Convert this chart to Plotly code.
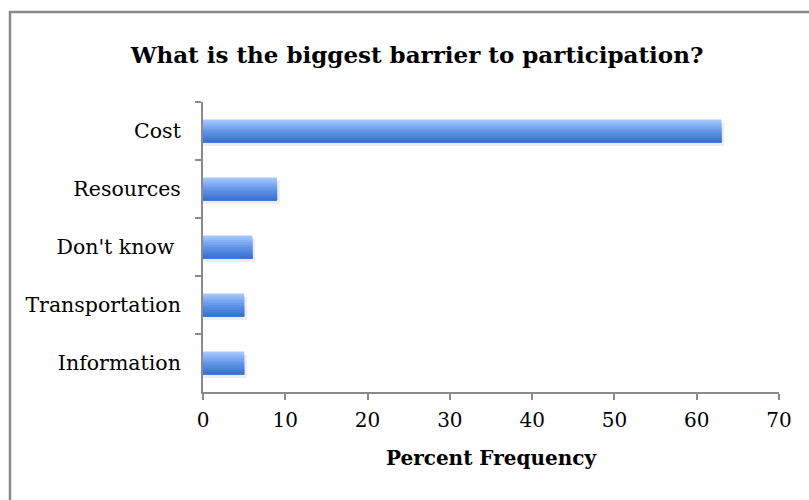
import plotly.graph_objects as go

categories = ["Cost", "Resources", "Don't know ", "Transportation", "Information"]
values = [63, 9, 6, 5, 5]
x_ticks = [0, 10, 20, 30, 40, 50, 60, 70]

W, H = 809, 500
L, R, T, B = 203, 30, 102, 108
pw, ph = W - L - R, H - T - B

SERIF = "DejaVu Serif, Liberation Serif, serif"
AXIS = "#8a8a8a"

fig = go.Figure()

# gradient simulated with stacked strips (top light -> bottom darker)
strip_colors = ["#a4c6fb", "#94bbf8", "#86b1f4", "#78a6f0", "#6b9cec", "#6093e7",
                "#568ae2", "#4c82dc", "#437ad5", "#3b72ce"]
n = len(strip_colors)
bw = 0.40
# subtle shadow
fig.add_trace(go.Bar(
    y=categories, x=[v + 0.35 for v in values], orientation="h",
    width=bw, offset=-bw / 2 + 0.06, marker=dict(color="rgba(0,0,0,0.07)", line=dict(width=0)),
    hoverinfo="skip", showlegend=False))
for i, c in enumerate(strip_colors):
    fig.add_trace(go.Bar(
        y=categories, x=values, orientation="h",
        width=bw - i * bw / n, offset=-bw / 2 + i * bw / n,
        marker=dict(color=c, line=dict(width=0)),
        showlegend=False, hoverinfo="x+y" if i == 0 else "skip"))

fig.update_layout(
    width=W, height=H,
    margin=dict(l=L, r=R, t=T, b=B, autoexpand=False),
    paper_bgcolor="white", plot_bgcolor="white",
    barmode="overlay",
    title=dict(text="<b>What is the biggest barrier to participation?</b>",
               x=417 / W, xanchor="center", y=1 - 55 / H, yanchor="middle",
               font=dict(family=SERIF, size=23, color="black")),
    font=dict(family=SERIF, color="black"),
    xaxis=dict(range=[0, 70], tickvals=x_ticks, showgrid=False, zeroline=False,
               showline=True, linecolor=AXIS, linewidth=2,
               ticks="outside", ticklen=6, tickwidth=2, tickcolor=AXIS,
               ticklabelstandoff=3,
               tickfont=dict(family=SERIF, size=20, color="black"),
               title=dict(text="<b>Percent Frequency</b>", standoff=20,
                          font=dict(family=SERIF, size=20, color="black"))),
    yaxis=dict(autorange="reversed", showgrid=False, zeroline=False,
               showline=True, linecolor=AXIS, linewidth=2,
               ticks="outside", ticklen=6, tickwidth=2, tickcolor=AXIS,
               tickson="boundaries", ticklabelstandoff=16,
               tickfont=dict(family=SERIF, size=20.5, color="black")),
    shapes=[dict(type="rect", xref="paper", yref="paper",
                 x0=(10 - L) / pw, x1=(W + 10 - L) / pw,
                 y0=-(B + 10) / ph, y1=(H - B - 12) / ph,
                 line=dict(color="#8a8a8a", width=2.5), fillcolor="rgba(0,0,0,0)", layer="below")],
)

fig.write_html("out.html")
